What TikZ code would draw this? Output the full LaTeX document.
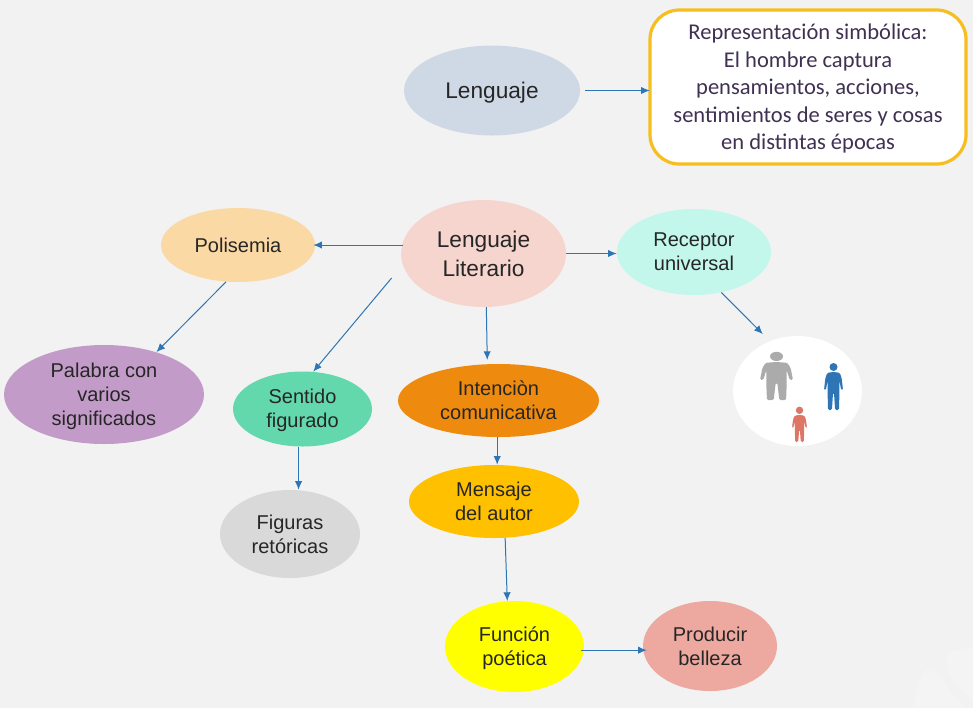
\documentclass[tikz,border=0pt]{standalone}
\usepackage{fontspec}
\setmainfont{Liberation Sans}
\newfontfamily\recuadrofont{Carlito}
\usetikzlibrary{shapes.geometric,arrows.meta}
\definecolor{fondo}{HTML}{F2F2F2}
\definecolor{marca}{HTML}{F4F4F4}
\definecolor{flecha}{HTML}{2E75B6}
\definecolor{texto}{HTML}{262626}
\definecolor{morado}{HTML}{403152}
\definecolor{cLenguaje}{HTML}{CFD9E6}
\definecolor{cLiterario}{HTML}{F6D5CF}
\definecolor{cPolisemia}{HTML}{FBD9A5}
\definecolor{cReceptor}{HTML}{C3F7EC}
\definecolor{cPalabra}{HTML}{C39BC8}
\definecolor{cSentido}{HTML}{63D8AC}
\definecolor{cIntencion}{HTML}{EE8A0E}
\definecolor{cMensaje}{HTML}{FFC000}
\definecolor{cFiguras}{HTML}{D9D9D9}
\definecolor{cFuncion}{HTML}{FFFF00}
\definecolor{cProducir}{HTML}{EDA9A0}
\definecolor{cBorde}{HTML}{F6BE1E}
\definecolor{cGris}{HTML}{ABABAB}
\definecolor{cAzul}{HTML}{2E75B6}
\definecolor{cRojo}{HTML}{DE7668}
\tikzset{
  elipse/.style n args={3}{ellipse,fill=#1,minimum width=#2*0.75pt,minimum height=#3*0.75pt,
    inner sep=0pt,align=center,text=texto,font=\fontsize{15}{18}\selectfont},
  grande/.style={font=\fontsize{17}{21.5}\selectfont},
  lineas/.style={text depth=0pt},
  recuadro/.style={draw=cBorde,line width=2.4pt,fill=white,rounded corners=22pt,inner sep=0pt,
    minimum width=316*0.75pt,minimum height=154*0.75pt,align=center,text=morado,
    font=\recuadrofont\fontsize{16.9}{20.6}\selectfont,text depth=0pt},
  arr/.style={draw=flecha,line width=0.75pt,-{Latex[length=6.5pt,width=5.5pt]}},
}
\begin{document}
\begin{tikzpicture}[x=0.75pt,y=-0.75pt]
  \fill[fondo,use as bounding box] (0,0) rectangle (973,708);
  % marca de agua
  \fill[marca] (913,708) .. controls (916,690) and (922,668) .. (930,668) .. controls (938,668) and (950,695) .. (966,708) -- cycle;
  \fill[marca] (973,648) .. controls (958,648) and (946,652) .. (946,662) .. controls (946,675) and (960,690) .. (973,700) -- cycle;

  \node[elipse={cLenguaje}{176}{90},grande,lineas] (lenguaje) at (492,90.5) {Lenguaje};
  \node[recuadro] (simbolica) at (808,87) {Representación simbólica:\\El hombre captura\\pensamientos, acciones,\\sentimientos de seres y cosas\\en distintas épocas};
  \node[elipse={cLiterario}{165}{107},grande,lineas] (literario) at (483.5,253.5) {Lenguaje\\Literario};
  \node[elipse={cPolisemia}{154}{74}] (polisemia) at (238,245) {Polisemia};
  \node[elipse={cReceptor}{154}{86},text depth=-2.7pt] (receptor) at (694,252) {Receptor\\universal};
  \node[elipse={cPalabra}{200}{99},lineas] (palabra) at (104,394.5) {Palabra con\\varios\\significados};
  \node[elipse={cSentido}{139}{75},text depth=1.3pt] (sentido) at (302.5,409) {Sentido\\figurado};
  \node[elipse={cIntencion}{201}{73},text depth=-1.3pt] (intencion) at (498.5,400.5) {Intenciòn\\comunicativa};
  \node[elipse={cMensaje}{170}{73},lineas] (mensaje) at (494,501.5) {Mensaje\\del autor};
  \node[elipse={cFiguras}{140}{88},lineas] (figuras) at (290,534) {Figuras\\retóricas};
  \node[elipse={cFuncion}{139}{91},lineas] (funcion) at (514.5,646.5) {Función\\poética};
  \node[elipse={cProducir}{134}{90},lineas] (producir) at (710,646) {Producir\\belleza};
  \node[elipse={white}{129}{110}] (personas) at (797.5,391) {};

  % figuras humanas
  \foreach \x/\y/\ancho/\alto/\col/\rx/\ry in {776.5/362/16.5/38/cGris/6.5/4.6, 833.5/372/9.5/38/cAzul/4/4, 799.5/415/7.5/27/cRojo/3.7/3.7} {
    \fill[\col] (\x,\y-\ry-1) ellipse ({\rx*0.75pt} and {\ry*0.75pt});
    \begin{scope}[shift={(\x,\y)},xscale=\ancho,yscale=\alto]
      \fill[\col,rounded corners=1pt] (0,0) -- (.65,.02) -- (.85,.15) -- (1,.47) -- (.8,.47)
        -- (.62,.22) -- (.62,.55) -- (.58,1) -- (.17,1) -- (.05,.55) -- (-.05,.55) -- (-.17,1)
        -- (-.58,1) -- (-.62,.55) -- (-.62,.22) -- (-.8,.47) -- (-1,.47) -- (-.85,.15) -- (-.65,.02) -- cycle;
    \end{scope}
  }

  \draw[arr,shorten <=3.75pt,shorten >=-1pt] (lenguaje.east) -- (lenguaje.east -| simbolica.west);
  \draw[arr,shorten <=-2pt,shorten >=-1.5pt] (literario.west |- polisemia.east) -- (polisemia.east);
  \draw[arr] (literario.east) -- (literario.east -| receptor.west);
  \draw[arr] (polisemia.-108) -- (palabra.39);
  \draw[arr,shorten <=12.8pt] (literario.188) -- (sentido.74);
  \draw[arr,shorten >=3pt] (literario.-87) -- (intencion.107.6);
  \draw[arr] (intencion.-92) -- (intencion.-92 |- mensaje.north);
  \draw[arr] (sentido.-96.8) -- (sentido.-96.8 |- figuras.north);
  \draw[arr] (mensaje.-73) -- (funcion.99.4);
  \draw[arr,shorten <=-2pt,shorten >=-3pt] (funcion.-3) -- (funcion.-3 -| producir.west);
  \draw[arr,shorten >=7.4pt] (receptor.-56) -- (personas.119.7);
\end{tikzpicture}
\end{document}
